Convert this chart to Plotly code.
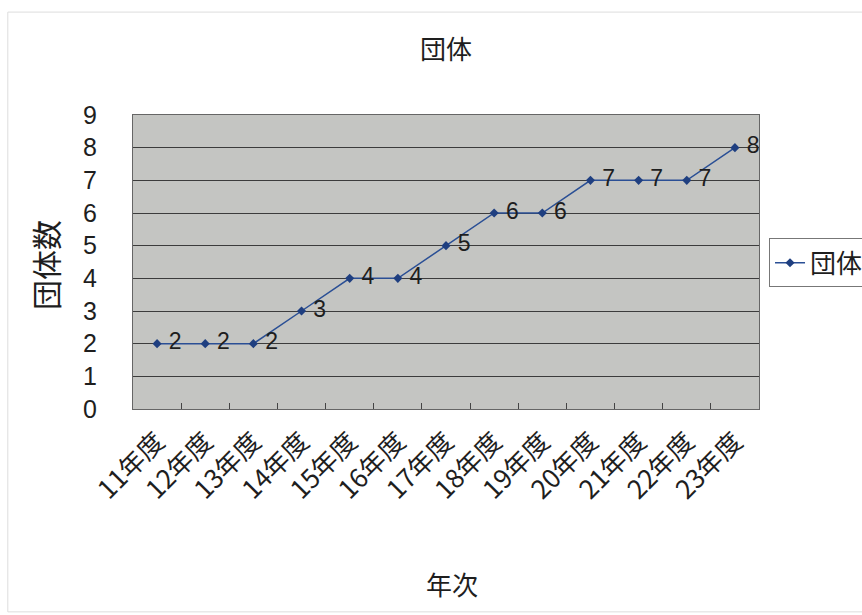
import plotly.graph_objects as go

categories = ["11年度", "12年度", "13年度", "14年度", "15年度", "16年度", "17年度",
              "18年度", "19年度", "20年度", "21年度", "22年度", "23年度"]
values = [2, 2, 2, 3, 4, 4, 5, 6, 6, 7, 7, 7, 8]
series_name = "団体"
chart_title = "団体"
x_title = "年次"
y_title = "団体数"

cjk = "Noto Sans CJK JP, sans-serif"
latin = "Liberation Sans, Arial, sans-serif"
ink = "#1e1e1e"

fig = go.Figure()
fig.add_trace(go.Scatter(
    x=categories, y=values, name=series_name,
    mode="lines+markers+text",
    line=dict(color="#2a4f95", width=1.5),
    marker=dict(symbol="diamond", size=7, color="#1f3f80"),
    text=values,
    texttemplate=" %{text}",
    textposition="middle right",
    textfont=dict(size=23, color=ink, family=latin),
    cliponaxis=False,
))

fig.update_layout(
    width=862, height=615,
    margin=dict(l=133, r=103, t=115, b=206, autoexpand=False),
    paper_bgcolor="white",
    plot_bgcolor="#c4c5c2",
    title=dict(text=chart_title, xref="paper", x=0.5, xanchor="center",
               yref="container", y=0.9187, yanchor="middle",
               font=dict(size=26, color=ink, family=cjk)),
    showlegend=True,
    legend=dict(x=1.016, y=0.497, xanchor="left", yanchor="middle",
                bordercolor="#777777", borderwidth=1, bgcolor="white",
                font=dict(size=26, color=ink, family=cjk)),
    xaxis=dict(
        type="category", range=[-0.5, 12.5], tickson="boundaries",
        ticks="inside", ticklen=6, tickcolor="#444444",
        showline=True, linecolor="#666666", linewidth=1, mirror=True,
        showgrid=False, tickangle=-45, ticklabelstandoff=6,
        tickfont=dict(size=26, color=ink, family=cjk),
    ),
    yaxis=dict(
        range=[0, 9], dtick=1, tick0=0,
        showgrid=True, gridcolor="#3c3c3c", gridwidth=0.8,
        showline=True, linecolor="#666666", linewidth=1, mirror=True,
        zeroline=False, ticks="", ticklabelstandoff=30,
        tickfont=dict(size=25, color=ink, family=latin),
    ),
    annotations=[
        dict(text=x_title, xref="paper", yref="paper", x=0.51, y=-0.592,
             xanchor="center", yanchor="middle", showarrow=False,
             font=dict(size=26, color=ink, family=cjk)),
        dict(text=y_title, xref="paper", yref="paper", x=-0.1406, y=0.49,
             xanchor="center", yanchor="middle", showarrow=False, textangle=-90,
             font=dict(size=30, color=ink, family=cjk)),
    ],
)

fig.add_shape(type="rect", xref="paper", yref="paper",
              x0=-0.2, x1=1.18, y0=-0.69, y1=1.35,
              line=dict(color="#dddddd", width=1), layer="below")

fig.write_html("out.html")
